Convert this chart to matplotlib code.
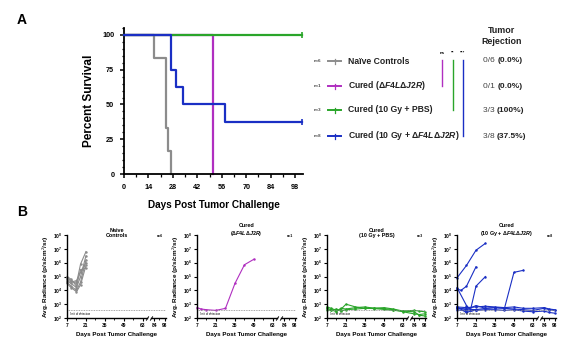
import numpy as np
import matplotlib
matplotlib.use('Agg')
from matplotlib import pyplot as plt
from matplotlib.lines import Line2D
from matplotlib.ticker import MultipleLocator, NullLocator, FixedLocator

plt.rcParams['font.family'] = ['Liberation Sans', 'DejaVu Sans']
plt.rcParams['mathtext.fontset'] = 'custom'
plt.rcParams['mathtext.rm'] = 'Liberation Sans'
plt.rcParams['mathtext.it'] = 'Liberation Sans:italic'
plt.rcParams['mathtext.bf'] = 'Liberation Sans:bold'
plt.rcParams['mathtext.bfit'] = 'Liberation Sans:bold:italic'

# ---- panel A: survival ----
naive_days = [0, 17, 24, 25, 27]
naive_surv = [100, 83.3, 33.3, 16.7, 0]
dd_days = [0, 51]
dd_surv = [100, 0]
pbs_days = [0, 102]
pbs_surv = [100, 100]
combo_days = [0, 27, 30, 34, 58, 102]
combo_surv = [100, 75, 62.5, 50, 37.5, 37.5]

group_labels = ['Naïve Controls', 'Cured ($\\boldsymbol{\\Delta F4L\\Delta J2R}$)',
                'Cured (10 Gy + PBS)', 'Cured (10 Gy + $\\boldsymbol{\\Delta F4L\\Delta J2R}$)']
group_n = ['n=6', 'n=1', 'n=3', 'n=8']
rejected = ['0/6', '0/1', '3/3', '3/8']
rejected_pct = ['(0.0%)', '(0.0%)', '(100%)', '(37.5%)']
signif = ['ns', '**', '***']

colors = ['#8c8c8c', '#b02fc0', '#2aa52a', '#1a2fc4']

# ---- panel B: bioluminescence (log10 radiance) ----
naive_bli_days = [7, 10, 14, 17, 21]
naive_bli = [
    [4.9, 4.7, 4.5, 5.9, 6.8],
    [4.7, 4.5, 4.2, 5.0, 6.5],
    [4.6, 4.3, 4.0, 4.6, 6.2],
    [4.5, 4.2, 3.9, 4.4, 5.8],
    [4.8, 4.6, 4.7, 5.3, 6.0],
    [5.0, 4.8, 4.3, 5.5, 5.6],
]
dd_bli_days = [7, 10, 14, 21, 28, 35, 42, 49]
dd_bli = [[2.75, 2.65, 2.6, 2.55, 2.7, 4.5, 5.85, 6.25]]
pbs_bli_days = [7, 10, 14, 17, 21, 28, 35, 42, 49, 56, 63, 84, 91, 98]
pbs_bli = [
    [2.8, 2.7, 2.55, 2.6, 3.0, 2.8, 2.7, 2.72, 2.68, 2.6, 2.45, 2.3, 2.25, 2.3],
    [2.7, 2.6, 2.45, 2.7, 2.65, 2.75, 2.8, 2.7, 2.75, 2.65, 2.5, 2.55, 2.5, 2.45],
    [2.6, 2.55, 2.65, 2.5, 2.6, 2.65, 2.7, 2.68, 2.62, 2.55, 2.5, 2.45, 2.2, 2.15],
]
combo_bli_days = [
    [7, 14, 21, 28],
    [7, 10, 14, 21],
    [7, 14, 17, 21, 28],
    [7, 14, 21, 28, 35, 42, 49, 56],
    [7, 14, 21, 28, 35, 42, 49, 56, 63, 84, 91, 98],
    [7, 14, 21, 28, 35, 42, 49, 56, 63, 84, 91, 98],
    [7, 14, 21, 28, 35, 42, 49, 56, 63, 84, 91, 98],
    [7, 14, 21],
]
combo_bli = [
    [4.9, 5.8, 6.9, 7.4],
    [4.1, 4.0, 4.3, 5.7],
    [4.2, 2.9, 2.6, 4.3, 5.0],
    [2.75, 2.6, 2.9, 2.7, 2.75, 2.7, 5.3, 5.45],
    [2.7, 2.65, 2.6, 2.7, 2.75, 2.7, 2.65, 2.6, 2.55, 2.7, 2.6, 2.55],
    [2.6, 2.5, 2.55, 2.6, 2.6, 2.55, 2.6, 2.5, 2.45, 2.5, 2.4, 2.35],
    [2.8, 2.75, 2.8, 2.85, 2.8, 2.75, 2.8, 2.7, 2.7, 2.75, 2.65, 2.6],
    [2.8, 2.4, 2.6],
]
bli_titles = ['Naive\nControls', 'Cured\n($\\boldsymbol{\\Delta F4L\\Delta J2R}$)',
              'Cured\n(10 Gy + PBS)', 'Cured\n(10 Gy + $\\boldsymbol{\\Delta F4L\\Delta J2R}$)']
bli_ticks = [7, 21, 35, 49, 63, 84, 98]
detect_limit = 380


def fwd(d):
    d = np.asarray(d, dtype=float)
    return np.where(d <= 66, d, np.where(d < 80, 66 + (d - 66) * (3 / 14), 69 + (d - 80) * 0.55))


def inv(x):
    x = np.asarray(x, dtype=float)
    return np.where(x <= 66, x, np.where(x < 69, 66 + (x - 66) * (14 / 3), 80 + (x - 69) / 0.55))


W, H = 569, 352
fig = plt.figure(figsize=(W / 100, H / 100), dpi=100)


def fx(px):
    return px / W


def fy(py):
    return 1 - py / H


# ---------------- panel A ----------------
ax = fig.add_axes([fx(124), fy(174), fx(303 - 124), (174 - 28) / H])
series = [(naive_days, naive_surv), (dd_days, dd_surv), (pbs_days, pbs_surv), (combo_days, combo_surv)]
zorders = [2, 1, 3, 4]
for (d, s), c, z in zip(series, colors, zorders):
    ax.plot(d, s, drawstyle='steps-post', color=c, lw=1.6, zorder=z, clip_on=False)
for (d, s), c in [(series[2], colors[2]), (series[3], colors[3])]:
    ax.plot(d[-1], s[-1], marker='|', ms=4, mew=1.2, color=c, clip_on=False, zorder=5)
ax.set_xlim(0, 102.5)
ax.set_ylim(0, 105)
ax.xaxis.set_major_locator(FixedLocator(np.arange(0, 99, 14)))
ax.xaxis.set_minor_locator(FixedLocator(np.arange(7, 99, 14)))
ax.yaxis.set_major_locator(FixedLocator([0, 25, 50, 75, 100]))
ax.yaxis.set_minor_locator(MultipleLocator(5))
for s in ['top', 'right']:
    ax.spines[s].set_visible(False)
for s in ['left', 'bottom']:
    ax.spines[s].set_linewidth(1.3)
ax.tick_params(which='major', length=3, width=1.1, labelsize=5.2, pad=4)
ax.tick_params(which='minor', length=1.8, width=0.9)
for lab in ax.get_xticklabels() + ax.get_yticklabels():
    lab.set_fontweight('bold')
ax.set_xlabel('Days Post Tumor Challenge', fontsize=7.2, fontweight='bold', labelpad=7)
ax.set_ylabel('Percent Survival', fontsize=8.5, fontweight='bold', labelpad=5)

fig.text(fx(22), fy(20), 'A', fontsize=10, fontweight='bold', va='center', ha='center')
fig.text(fx(22), fy(212), 'B', fontsize=10, fontweight='bold', va='center', ha='center')

# legend rows
rows_y = [61, 86, 110, 136]
for i, yy in enumerate(rows_y):
    fig.text(fx(318), fy(yy), group_n[i], fontsize=3.2, fontweight='bold', ha='center', va='center', color='#444444')
    fig.add_artist(Line2D([fx(328), fx(341)], [fy(yy), fy(yy)], color=colors[i], lw=1.4))
    fig.add_artist(Line2D([fx(334.5), fx(334.5)], [fy(yy - 2.5), fy(yy + 2.5)], color=colors[i], lw=0.9))
    fig.text(fx(348), fy(yy), group_labels[i], fontsize=6.2, fontweight='bold', ha='left', va='center', color='#222222')
    t = fig.text(fx(483), fy(yy), rejected[i] + ' ', fontsize=6.0, ha='left', va='center', color='#444444')
    fig.canvas.draw()
    bb = t.get_window_extent()
    fig.text(bb.x1 / W, fy(yy), rejected_pct[i], fontsize=6.0, fontweight='bold', ha='left', va='center', color='#222222')

fig.text(fx(502), fy(36), 'Tumor\nRejection', fontsize=6.4, fontweight='bold', ha='center', va='center',
         linespacing=1.3, color='#222222')
sig_x = [442, 453, 463]
for i, sx in enumerate(sig_x):
    fig.text(fx(sx), fy(53), signif[i], fontsize=3.2, fontweight='bold', ha='center', va='center')
    fig.add_artist(Line2D([fx(sx), fx(sx)], [fy(60), fy(rows_y[i + 1])], color=colors[i + 1], lw=1.0))

# ---------------- panel B ----------------
lefts = [67, 197, 327, 457]
bli_sets = [([naive_bli_days] * len(naive_bli), naive_bli),
            ([dd_bli_days] * len(dd_bli), dd_bli),
            ([pbs_bli_days] * len(pbs_bli), pbs_bli),
            (combo_bli_days, combo_bli)]
for k, left in enumerate(lefts):
    bx = fig.add_axes([fx(left), fy(318), fx(99), (318 - 235) / H])
    bx.set_xscale('function', functions=(fwd, inv))
    bx.set_yscale('log')
    days_list, vals_list = bli_sets[k]
    for d, v in zip(days_list, vals_list):
        bx.plot(d, 10 ** np.array(v), color=colors[k], lw=0.8, marker='.', ms=1.5, clip_on=False)
    bx.axhline(detect_limit, color='#888888', lw=0.6, ls=(0, (1, 1)))
    bx.text(0.03, 0.02, 'limit of detection', transform=bx.transAxes, fontsize=2, va='bottom', ha='left')
    bx.set_xlim(7, 100)
    bx.set_ylim(1e2, 1e8)
    bx.xaxis.set_major_locator(FixedLocator(bli_ticks))
    bx.xaxis.set_minor_locator(FixedLocator([14, 28, 42, 56, 91]))
    bx.yaxis.set_major_locator(FixedLocator([10.0 ** e for e in range(2, 9)]))
    bx.yaxis.set_minor_locator(NullLocator())
    for s in ['top', 'right', 'bottom']:
        bx.spines[s].set_visible(False)
    bx.spines['left'].set_linewidth(1.0)
    # broken x axis
    tr = bx.get_xaxis_transform()
    bx.plot([7, 66], [0, 0], color='k', lw=1.0, transform=tr, clip_on=False)
    bx.plot([78, 100], [0, 0], color='k', lw=1.0, transform=tr, clip_on=False)
    bx.plot([66, 78], [0, 0], ls='none', marker=[(-1, -1.6), (1, 1.6)], ms=3, mew=0.7, color='k',
            transform=tr, clip_on=False)
    bx.tick_params(which='major', length=2, width=0.8, labelsize=3.5, pad=1.5)
    bx.tick_params(which='minor', length=1.2, width=0.6)
    for lab in bx.get_xticklabels() + bx.get_yticklabels():
        lab.set_fontweight('bold')
    bx.set_xlabel('Days Post Tumor Challenge', fontsize=4.4, fontweight='bold', labelpad=3)
    bx.set_ylabel('Avg. Radiance (p/s/cm$^2$/sr)', fontsize=4.6, fontweight='bold', labelpad=1)
    bx.text(0.5, 0.96, bli_titles[k], transform=bx.transAxes, fontsize=3.9, fontweight='bold',
            ha='center', va='bottom', linespacing=1.2)
    bx.text(0.97, 0.99, group_n[k], transform=bx.transAxes, fontsize=2.5, fontweight='bold',
            ha='right', va='center')

fig.savefig('out.png', dpi=100)
